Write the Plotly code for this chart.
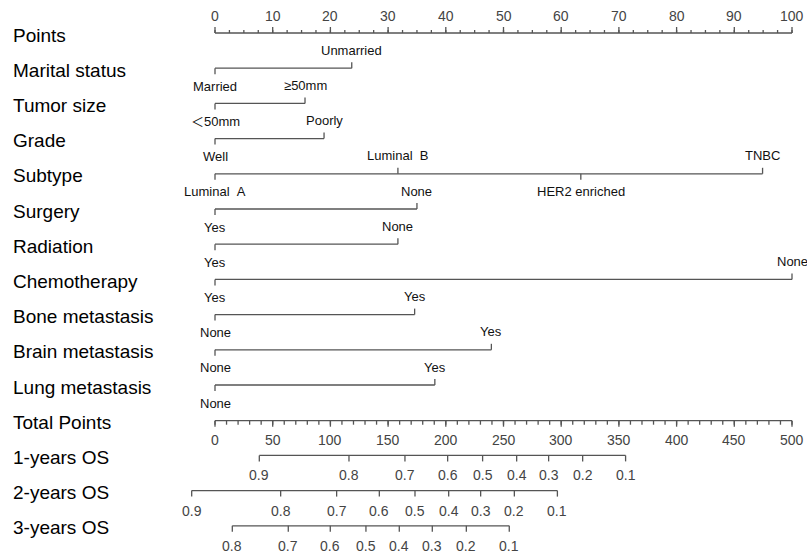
import plotly.graph_objects as go

# ---------------- data ----------------
points_ticks = list(range(0, 101, 10))
points_minor = [i * 2.5 for i in range(0, 41)]

variables = ["Marital status", "Tumor size", "Grade", "Subtype", "Surgery",
             "Radiation", "Chemotherapy", "Bone metastasis", "Brain metastasis",
             "Lung metastasis"]

marital_levels = ["Married", "Unmarried"]
marital_points = [0, 23.7]
tumor_levels = ["＜50mm", "≥50mm"]
tumor_points = [0, 15.6]
grade_levels = ["Well", "Poorly"]
grade_points = [0, 18.9]
subtype_levels = ["Luminal\u00a0\u00a0A", "Luminal\u00a0\u00a0B", "HER2 enriched", "TNBC"]
subtype_points = [0, 31.7, 63.4, 94.9]
surgery_levels = ["Yes", "None"]
surgery_points = [0, 35.0]
radiation_levels = ["Yes", "None"]
radiation_points = [0, 31.7]
chemo_levels = ["Yes", "None"]
chemo_points = [0, 100]
bone_levels = ["None", "Yes"]
bone_points = [0, 34.6]
brain_levels = ["None", "Yes"]
brain_points = [0, 47.9]
lung_levels = ["None", "Yes"]
lung_points = [0, 38.1]

total_max = 500
total_ticks = list(range(0, 501, 50))
total_minor = list(range(0, 501, 10))

os_names = ["1-years OS", "2-years OS", "3-years OS"]
os1_probs = ["0.9", "0.8", "0.7", "0.6", "0.5", "0.4", "0.3", "0.2", "0.1"]
os1_total = [38.4, 116.1, 164.6, 201.6, 231.9, 261.4, 289.1, 318.6, 355.8]
os2_probs = ["0.9", "0.8", "0.7", "0.6", "0.5", "0.4", "0.3", "0.2", "0.1"]
os2_total = [-20.2, 56.9, 105.4, 142.4, 173.3, 202.5, 230.2, 259.4, 296.7]
os3_probs = ["0.8", "0.7", "0.6", "0.5", "0.4", "0.3", "0.2", "0.1"]
os3_total = [15.0, 63.5, 99.9, 130.8, 159.7, 188.3, 217.8, 255.0]

# ---------------- layout helpers ----------------
W, H = 807, 558
X0PX, X100PX = 215, 792
scale = (X100PX - X0PX) / 100.0
xa = -X0PX / scale
xb = xa + W / scale

ROW_Y0 = 34
ROW_DY = 35.2
LINE_COLOR = "#555555"
FONT = "Liberation Sans, Arial, Noto Sans CJK SC, sans-serif"

fig = go.Figure()
ann = []

lx, ly = [], []

def seg(x1, y1, x2, y2):
    lx.extend([x1, x2, None])
    ly.extend([y1, y2, None])

def txt(x, y, s, size=13, color="#111111", xanchor="center"):
    ann.append(dict(x=x, y=y, text=s, showarrow=False, xanchor=xanchor,
                    yanchor="middle", font=dict(family=FONT, size=size, color=color)))

def row_y(i):
    return ROW_Y0 + i * ROW_DY

# left labels
all_rows = ["Points"] + variables + ["Total Points"] + os_names
for i, name in enumerate(all_rows):
    ann.append(dict(x=0, xref="paper", y=row_y(i) + 1, text=name, showarrow=False,
                    xanchor="left", yanchor="middle", xshift=11,
                    font=dict(family=FONT, size=19, color="#000000")))

# Points axis (ticks up, labels above)
y = row_y(0) - 1
seg(points_ticks[0], y, points_ticks[-1], y)
for v in points_minor:
    seg(v, y, v, y - 3)
for v in points_ticks:
    seg(v, y, v, y - 6)
    txt(v, y - 17, str(v), size=14, color="#444444")

# variable rows
var_data = [(marital_levels, marital_points), (tumor_levels, tumor_points),
            (grade_levels, grade_points), (subtype_levels, subtype_points),
            (surgery_levels, surgery_points), (radiation_levels, radiation_points),
            (chemo_levels, chemo_points), (bone_levels, bone_points),
            (brain_levels, brain_points), (lung_levels, lung_points)]
for i, (levs, pts) in enumerate(var_data):
    y = row_y(i + 1) - 1
    seg(min(pts), y, max(pts), y)
    for j, (lv, p) in enumerate(zip(levs, pts)):
        if j % 2 == 0:
            seg(p, y, p, y + 6)
            txt(p, y + 18, lv)
        else:
            seg(p, y, p, y - 6)
            txt(p, y - 18, lv)

# Total points axis (ticks down, labels below)
tp = lambda t: t * 100.0 / total_max
y = row_y(11) - 0.5
seg(tp(total_ticks[0]), y, tp(total_ticks[-1]), y)
for v in total_minor:
    seg(tp(v), y, tp(v), y + 4)
for v in total_ticks:
    seg(tp(v), y, tp(v), y + 6)
    txt(tp(v), y + 19, str(v), size=14, color="#444444")

# OS axes
for k, (probs, tots) in enumerate([(os1_probs, os1_total), (os2_probs, os2_total),
                                   (os3_probs, os3_total)]):
    y = row_y(12 + k) - 1
    seg(tp(min(tots)), y, tp(max(tots)), y)
    for lab, t in zip(probs, tots):
        seg(tp(t), y, tp(t), y + 6)
        txt(tp(t), y + 20, lab, size=14, color="#444444")

fig.add_trace(go.Scatter(x=lx, y=ly, mode="lines",
                         line=dict(color=LINE_COLOR, width=1.3),
                         hoverinfo="skip", showlegend=False))

fig.update_layout(
    width=W, height=H,
    margin=dict(l=0, r=0, t=0, b=0),
    paper_bgcolor="white", plot_bgcolor="white",
    xaxis=dict(range=[xa, xb], visible=False, fixedrange=True),
    yaxis=dict(range=[H, 0], visible=False, fixedrange=True),
    annotations=ann,
    showlegend=False,
)
fig.write_html("out.html", config={"displayModeBar": False},
               post_script="document.body.style.margin='0';document.body.style.overflow='hidden';")
